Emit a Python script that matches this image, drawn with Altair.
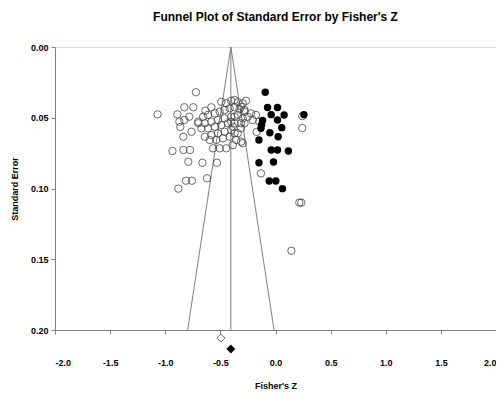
import altair as alt
import pandas as pd

# Observed studies (open circles): Fisher's Z and standard error
obs_z = [-0.722, -1.070, -0.890, -0.827, -0.746, -0.782, -0.872, -0.863, -0.827, -0.701,
         -0.836, -0.762, -0.935, -0.836, -0.776, -0.791, -0.663, -0.531, -0.812, -0.758,
         -0.881, -0.621,
         -0.636, -0.582, -0.492, -0.447, -0.402, -0.342, -0.297, -0.656, -0.612, -0.551,
         -0.506, -0.461, -0.416, -0.371, -0.326, -0.281, -0.701, -0.641, -0.582, -0.522,
         -0.461, -0.402, -0.342, -0.297, -0.672, -0.612, -0.551, -0.492, -0.432, -0.371,
         -0.312, -0.641, -0.582, -0.522, -0.461, -0.402, -0.342, -0.596, -0.537, -0.477,
         -0.416, -0.357, -0.567, -0.506, -0.447, -0.387, -0.312,
         -0.371, -0.267, -0.312, -0.281, -0.222, -0.177, -0.252, -0.371, -0.402, -0.281,
         -0.207, -0.147, -0.387, -0.312, -0.371, -0.171, -0.297, -0.132,
         0.243, 0.243, 0.216, 0.234, 0.144]
obs_se = [0.032, 0.0476, 0.0476, 0.0426, 0.0426, 0.0493, 0.0528, 0.0565, 0.0516, 0.0528,
          0.0634, 0.0599, 0.0735, 0.0728, 0.0728, 0.0811, 0.0818, 0.0818, 0.0945, 0.0945,
          0.1001, 0.0928,
          0.045, 0.0426, 0.0387, 0.0398, 0.038, 0.0391, 0.0398, 0.0493, 0.048, 0.0469,
          0.0457, 0.0445, 0.0433, 0.0426, 0.044, 0.0457, 0.0539, 0.0539, 0.0528, 0.0516,
          0.0504, 0.0493, 0.048, 0.0504, 0.0575, 0.0575, 0.0563, 0.0551, 0.0539, 0.0539,
          0.0539, 0.0634, 0.0622, 0.061, 0.0599, 0.0587, 0.061, 0.0657, 0.0657, 0.0645,
          0.0634, 0.0657, 0.0716, 0.0716, 0.0716, 0.0693, 0.0669,
          0.0375, 0.038, 0.0422, 0.0445, 0.0469, 0.048, 0.0493, 0.0493, 0.0528, 0.0539,
          0.0516, 0.0528, 0.0563, 0.0575, 0.061, 0.060, 0.068, 0.0893,
          0.0488, 0.0573, 0.110, 0.110, 0.144]

# Imputed studies (filled circles)
imp_z = [-0.093, -0.072, 0.018, -0.039, 0.078, 0.018, 0.258, -0.117, -0.126, -0.132,
         -0.051, 0.057, 0.024, -0.150, -0.039, 0.018, 0.117, -0.150, -0.018, -0.057,
         0.003, 0.063]
imp_se = [0.032, 0.0427, 0.0427, 0.0478, 0.048, 0.0516, 0.0478, 0.052, 0.055, 0.0575,
          0.0606, 0.057, 0.0634, 0.0657, 0.0728, 0.0728, 0.0735, 0.0818, 0.0813, 0.0947,
          0.0947, 0.1001]

# Summary estimates (diamonds): observed and adjusted
obs_est = -0.495
adj_est = -0.405
diamond_se = [0.2057, 0.2134]

se_max = 0.20
x_ticks = [-2.0, -1.5, -1.0, -0.5, 0.0, 0.5, 1.0, 1.5, 2.0]
y_ticks = [0.00, 0.05, 0.10, 0.15, 0.20]

FONT = "Liberation Sans, Arial, sans-serif"
GRAY = "#7f7f7f"

obs_df = pd.DataFrame({"z": obs_z, "se": obs_se})
imp_df = pd.DataFrame({"z": imp_z, "se": imp_se})
dia_df = pd.DataFrame({"z": [obs_est, adj_est], "se": diamond_se,
                       "kind": ["observed", "adjusted"]})

half = 1.96 * se_max
funnel_df = pd.DataFrame({
    "x1": [adj_est, adj_est, adj_est],
    "y1": [0.0, 0.0, 0.0],
    "x2": [adj_est - half, adj_est + half, adj_est],
    "y2": [se_max, se_max, se_max],
})

xscale = alt.Scale(domain=[-2, 2], nice=False)
yscale = alt.Scale(domain=[0, se_max], reverse=True, nice=False, zero=False)

xaxis = alt.Axis(
    values=x_ticks,
    labelExpr="datum.value < 0 ? '-' + format(abs(datum.value), '.1f') : format(datum.value, '.1f')",
    title="Fisher's Z", grid=False, tickSize=4, labelPadding=24, titlePadding=14,
    domainColor=GRAY, tickColor=GRAY, labelFont=FONT, labelFontWeight="bold",
    labelFontSize=9, titleFont=FONT, titleFontWeight="bold", titleFontSize=9,
    labelColor="black", titleColor="black",
)
yaxis = alt.Axis(
    values=y_ticks, format=".2f", title="Standard Error", grid=False, tickSize=4,
    labelPadding=3, titlePadding=11, domainColor=GRAY, tickColor=GRAY,
    labelFont=FONT, labelFontWeight="bold", labelFontSize=9, titleFont=FONT,
    titleFontWeight="bold", titleFontSize=9, labelColor="black", titleColor="black",
)

funnel = alt.Chart(funnel_df).mark_rule(color=GRAY, strokeWidth=1).encode(
    x=alt.X("x1:Q", scale=xscale, axis=xaxis),
    y=alt.Y("y1:Q", scale=yscale, axis=yaxis),
    x2="x2:Q",
    y2="y2:Q",
)

open_pts = alt.Chart(obs_df).mark_point(
    shape="circle", size=55, filled=False, color="#444444", strokeWidth=0.8, opacity=1
).encode(x=alt.X("z:Q", scale=xscale), y=alt.Y("se:Q", scale=yscale))

filled_pts = alt.Chart(imp_df).mark_point(
    shape="circle", size=55, filled=True, color="black", opacity=1
).encode(x=alt.X("z:Q", scale=xscale), y=alt.Y("se:Q", scale=yscale))

diamonds = alt.Chart(dia_df).mark_point(
    shape="diamond", size=65, opacity=1, strokeWidth=0.8
).encode(
    x=alt.X("z:Q", scale=xscale),
    y=alt.Y("se:Q", scale=yscale),
    fill=alt.Fill("kind:N", scale=alt.Scale(domain=["observed", "adjusted"],
                                            range=["white", "black"]), legend=None),
    stroke=alt.Stroke("kind:N", scale=alt.Scale(domain=["observed", "adjusted"],
                                                range=["#444444", "black"]), legend=None),
)

chart = alt.layer(funnel, open_pts, filled_pts, diamonds).properties(
    width=441,
    height=283,
    autosize=alt.AutoSizeParams(type="none"),
    padding={"left": 47, "top": 39, "right": 0, "bottom": 64},
    title=alt.TitleParams(
        "Funnel Plot of Standard Error by Fisher's Z",
        font=FONT, fontSize=12, fontWeight="bold", offset=19, anchor="middle",
        color="black",
    ),
).configure_view(stroke=GRAY, strokeWidth=1).configure(background="white")

chart.save("out.html", embed_options={"renderer": "svg", "actions": False})
